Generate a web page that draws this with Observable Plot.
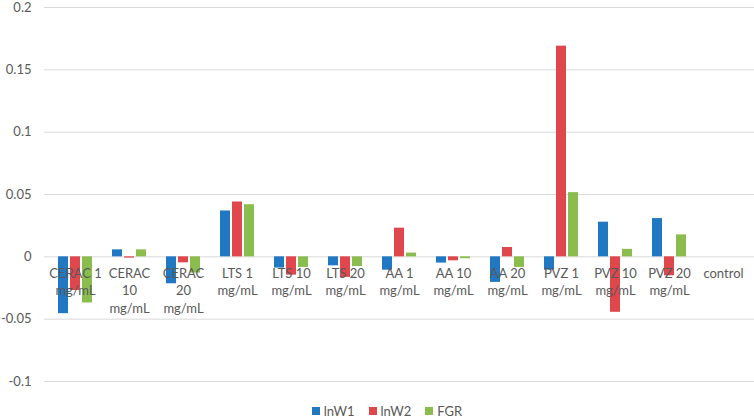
<!DOCTYPE html>
<html>
<head>
<meta charset="utf-8">
<script src="https://cdn.jsdelivr.net/npm/d3@7"></script>
<script src="https://cdn.jsdelivr.net/npm/@observablehq/plot@0.6"></script>
<style>
  body { margin: 0; background: #fff; font-family: Lato, "Open Sans", sans-serif; }
  #chart svg { display: block; overflow: visible; }
  .legend { display: flex; justify-content: center; gap: 14px; font-size: 13px; color: #595959; margin-top: 10px; padding-left: 20px; }
  .legend span { display: inline-flex; align-items: center; gap: 4px; }
  .legend i { display: inline-block; width: 8px; height: 8px; }
</style>
</head>
<body>
<div id="chart"></div>
<script>
const categories = ["CERAC 1 mg/mL","CERAC 10 mg/mL","CERAC 20 mg/mL","LTS 1 mg/mL","LTS 10 mg/mL","LTS 20 mg/mL","AA 1 mg/mL","AA 10 mg/mL","AA 20 mg/mL","PVZ 1 mg/mL","PVZ 10 mg/mL","PVZ 20 mg/mL","control"];
const labels = ["CERAC 1\nmg/mL","CERAC\n10\nmg/mL","CERAC\n20\nmg/mL","LTS 1\nmg/mL","LTS 10\nmg/mL","LTS 20\nmg/mL","AA 1\nmg/mL","AA 10\nmg/mL","AA 20\nmg/mL","PVZ 1\nmg/mL","PVZ 10\nmg/mL","PVZ 20\nmg/mL","control"];
const seriesNames = ["lnW1","lnW2","FGR"];
const lnW1 = [-0.0456, 0.0056, -0.0216, 0.0368, -0.009, -0.0072, -0.0107, -0.005, -0.0205, -0.0107, 0.0278, 0.0307, 0];
const lnW2 = [-0.027, -0.001, -0.0048, 0.044, -0.0147, -0.0165, 0.023, -0.0032, 0.0075, 0.169, -0.0445, -0.0152, 0];
const FGR  = [-0.037, 0.0056, -0.013, 0.0418, -0.0085, -0.0078, 0.003, -0.0015, -0.0085, 0.0515, 0.006, 0.0176, 0];
const yTicks = [-0.1, -0.05, 0, 0.05, 0.1, 0.15, 0.2];
const colors = ["#1f78c1", "#e0474c", "#8bbd4e"];

const seriesValues = [lnW1, lnW2, FGR];
const rows = seriesNames.map((s, i) => categories.map((c, j) => ({series: s, cat: c, value: seriesValues[i][j]})));
const labelRows = categories.map((c, j) => ({cat: c, label: labels[j]}));
const offsets = [-12, 0, 12];

const plot = Plot.plot({
  width: 754,
  height: 393,
  marginLeft: 44,
  marginRight: 0,
  marginTop: 7,
  marginBottom: 12,
  style: {fontFamily: "Lato, 'Open Sans', sans-serif", fontSize: "13px", color: "#595959", overflow: "visible"},
  x: {domain: categories, paddingInner: 0.815, paddingOuter: 0.4075, axis: null},
  y: {domain: [-0.1, 0.2], ticks: yTicks, tickSize: 0, tickPadding: 13, tickFormat: d => d === 0 ? "0" : String(d), label: null},
  marks: [
    Plot.ruleY(yTicks, {stroke: "#d9d9d9", strokeWidth: 1}),
    ...rows.map((r, i) => Plot.barY(r, {x: "cat", y: "value", fill: colors[i], dx: offsets[i]})),
    Plot.text(labelRows, {x: "cat", y: () => 0, text: "label", lineAnchor: "top", dy: 9, fill: "#595959", fontSize: 13, lineHeight: 1.33})
  ]
});
document.getElementById("chart").appendChild(plot);

const legend = document.createElement("div");
legend.className = "legend";
seriesNames.forEach((s, i) => {
  const item = document.createElement("span");
  const sw = document.createElement("i");
  sw.style.background = colors[i];
  item.appendChild(sw);
  item.appendChild(document.createTextNode(s));
  legend.appendChild(item);
});
document.body.appendChild(legend);
</script>
</body>
</html>
